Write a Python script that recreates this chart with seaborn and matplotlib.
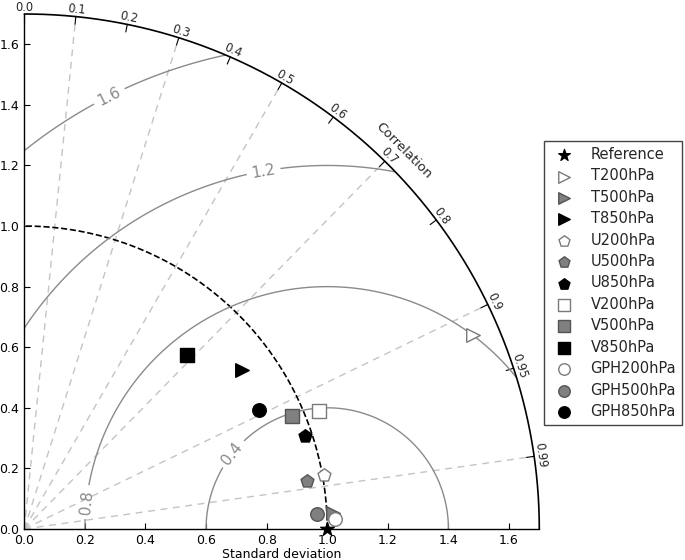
import numpy as np
import seaborn as sns
import matplotlib
matplotlib.use("Agg")
import matplotlib.pyplot as plt

## Taylor diagram: model fields vs. reference (std normalised to 1)

# Data
names = ["T200hPa", "T500hPa", "T850hPa",
         "U200hPa", "U500hPa", "U850hPa",
         "V200hPa", "V500hPa", "V850hPa",
         "GPH200hPa", "GPH500hPa", "GPH850hPa"]
stddev = [1.613, 1.019, 0.889,
          1.007, 0.947, 0.976,
          1.047, 0.960, 0.785,
          1.026, 0.967, 0.868]
corrcoef = [0.918, 0.9986, 0.808,
            0.984, 0.986, 0.949,
            0.928, 0.922, 0.683,
            0.9995, 0.9987, 0.891]
levels_hpa = ["200", "500", "850"] * 4
variables = ["T"] * 3 + ["U"] * 3 + ["V"] * 3 + ["GPH"] * 3

ref_std = 1.0
smax = 1.7
corr_ticks = [0.0, 0.1, 0.2, 0.3, 0.4, 0.5, 0.6, 0.7, 0.8, 0.9, 0.95, 0.99]
corr_labels = ["0.0", "0.1", "0.2", "0.3", "0.4", "0.5", "0.6", "0.7",
               "0.8", "0.9", "0.95", "0.99"]
corr_grid = [0.1, 0.3, 0.5, 0.7, 0.9, 0.99]
std_ticks = [0.0, 0.2, 0.4, 0.6, 0.8, 1.0, 1.2, 1.4, 1.6]
rms_levels = [0.4, 0.8, 1.2, 1.6]

# styles
marker_of = {"T": ">", "U": "p", "V": "s", "GPH": "o"}
fill_of = {"200": "white", "500": "#808080", "850": "black"}
edge_of = {"200": "#7a7a7a", "500": "#555555", "850": "black"}

sns.set_style("ticks", {"xtick.direction": "in", "ytick.direction": "in"})
plt.rcParams["font.family"] = ["DejaVu Sans"]

fig = plt.figure(figsize=(6.85, 5.6), dpi=100)
ax = fig.add_axes([0.0355, 0.0554, 0.7518, 0.9196])

# radial correlation lines
for c in corr_grid:
    th = np.arccos(c)
    ax.plot([0, smax * np.cos(th)], [0, smax * np.sin(th)],
            ls=(0, (5, 4)), color="#c4c4c4", lw=1, zorder=1)

# outer arc, ticks and labels
t = np.linspace(0, np.pi / 2, 300)
ax.plot(smax * np.cos(t), smax * np.sin(t), color="black", lw=1.2, clip_on=False, zorder=3)
for c, lab in zip(corr_ticks, corr_labels):
    th = np.arccos(c)
    ax.plot([0.985 * smax * np.cos(th), smax * np.cos(th)],
            [0.985 * smax * np.sin(th), smax * np.sin(th)],
            color="black", lw=0.8, clip_on=False)
    ax.text(1.701 * np.cos(th), 1.701 * np.sin(th), lab, fontsize=8.3,
            rotation=np.degrees(th) - 90, rotation_mode="anchor",
            ha="center", va="bottom")
th_lab = np.radians(44.9)
ax.text(1.768 * np.cos(th_lab), 1.768 * np.sin(th_lab), "Correlation", fontsize=9.5,
        rotation=np.degrees(th_lab) - 90, rotation_mode="anchor",
        ha="center", va="center")

# reference std circle
ax.plot(ref_std * np.cos(t), ref_std * np.sin(t), "k--", lw=1.2, zorder=2)

# centred RMS difference contours
rs = np.linspace(0, smax, 400)
ts = np.linspace(0, np.pi / 2, 400)
R, T = np.meshgrid(rs, ts)
X = R * np.cos(T)
Y = R * np.sin(T)
Z = np.sqrt(ref_std ** 2 + R ** 2 - 2 * ref_std * R * np.cos(T))
cs = ax.contour(X, Y, Z, levels=rms_levels, colors="#8a8a8a", linewidths=1, zorder=2)
ax.clabel(cs, inline=True, fontsize=11, fmt="%.1f",
          manual=[(0.68, 0.255), (0.195, 0.09), (0.79, 1.18), (0.275, 1.439)])

# points
sns.scatterplot(x=[ref_std], y=[0.0], marker="*", s=110, color="black",
                edgecolor="black", label="Reference", ax=ax, clip_on=False, zorder=6)
for name, s, c, var, lev in zip(names, stddev, corrcoef, variables, levels_hpa):
    xs = s * c
    ys = s * np.sqrt(1 - c ** 2)
    sns.scatterplot(x=[xs], y=[ys], marker=marker_of[var], s=95,
                    color=fill_of[lev], edgecolor=edge_of[lev], linewidth=1,
                    label=name, ax=ax, zorder=5)

ax.set_xlim(0, smax)
ax.set_ylim(0, smax)
ax.set_xticks(std_ticks)
ax.set_yticks(std_ticks)
ax.set_xticklabels([f"{v:.1f}" for v in std_ticks])
ax.set_yticklabels([f"{v:.1f}" for v in std_ticks])
ax.tick_params(direction="in", length=4, labelsize=9, color="black", labelcolor="black")
ax.set_xlabel("Standard deviation", fontsize=9, color="black", labelpad=1)
ax.set_ylabel("")
sns.despine(ax=ax)
for sp in ["left", "bottom"]:
    ax.spines[sp].set_color("black")
    ax.spines[sp].set_linewidth(1)

leg = ax.legend(loc="upper left", bbox_to_anchor=(0.794, 0.748),
                bbox_transform=fig.transFigure, fontsize=10.5, markerscale=0.85,
                frameon=True, fancybox=False, framealpha=1, edgecolor="#444444",
                labelspacing=0.44, handletextpad=0.8, borderpad=0.4,
                borderaxespad=0)
leg.get_frame().set_linewidth(1)

fig.savefig("out.png", dpi=100)
